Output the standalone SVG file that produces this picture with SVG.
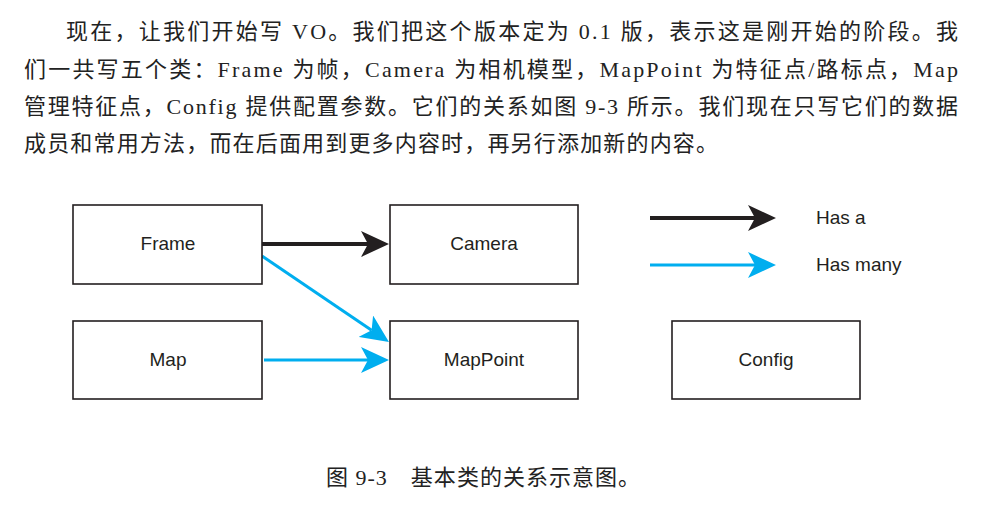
<svg xmlns="http://www.w3.org/2000/svg" width="998" height="510" viewBox="0 0 998 510">
<style>
.p{font-family:"Liberation Serif","Noto Sans CJK SC",serif;font-size:22px;fill:#222}
.box{fill:#fff;stroke:#231F20;stroke-width:1.6}
.lbl{font-family:"Liberation Sans",Arial,sans-serif;font-size:19px;fill:#231F20;text-anchor:middle}
.leg{font-family:"Liberation Sans",Arial,sans-serif;font-size:19px;fill:#231F20}
.has{stroke:#231F20;stroke-width:4;fill:none}
.many{stroke:#00AEEF;stroke-width:3;fill:none}
</style>
<defs>
<marker id="ab" markerUnits="userSpaceOnUse" markerWidth="28" markerHeight="26" refX="7" refY="13" orient="auto" viewBox="0 0 28 26">
<path d="M0,0 L28,13 L0,26 L7,13 Z" fill="#231F20"/>
</marker>
<marker id="am" markerUnits="userSpaceOnUse" markerWidth="28" markerHeight="26" refX="7" refY="13" orient="auto" viewBox="0 0 28 26">
<path d="M0,0 L28,13 L0,26 L7,13 Z" fill="#00AEEF"/>
</marker>
</defs>
<rect width="998" height="510" fill="#fff"/>
<g id="paragraph">
<text class="p" x="66" y="39" textLength="892" lengthAdjust="spacing">现在，让我们开始写 VO。我们把这个版本定为 0.1 版，表示这是刚开始的阶段。我</text>
<text class="p" x="24" y="77" textLength="934" lengthAdjust="spacing">们一共写五个类：Frame 为帧，Camera 为相机模型，MapPoint 为特征点/路标点，Map</text>
<text class="p" x="24" y="114" textLength="934" lengthAdjust="spacing">管理特征点，Config 提供配置参数。它们的关系如图 9-3 所示。我们现在只写它们的数据</text>
<text class="p" x="24" y="151" textLength="694" lengthAdjust="spacing">成员和常用方法，而在后面用到更多内容时，再另行添加新的内容。</text>
</g>
<g id="connectors">
<line class="has" x1="262" y1="244" x2="368" y2="244" marker-end="url(#ab)"/>
<line class="many" x1="262" y1="256" x2="371.6" y2="330.2" marker-end="url(#am)"/>
<line class="many" x1="264" y1="360" x2="368" y2="360" marker-end="url(#am)"/>
<line class="has" x1="650" y1="218" x2="755" y2="218" stroke-width="3" marker-end="url(#ab)"/>
<line class="many" x1="650" y1="265" x2="755" y2="265" marker-end="url(#am)"/>
</g>
<g id="frame"><rect class="box" x="73" y="205" width="189" height="79"/><text class="lbl" x="168" y="250">Frame</text></g>
<g id="camera"><rect class="box" x="390" y="205" width="188" height="79"/><text class="lbl" x="484" y="250">Camera</text></g>
<g id="map"><rect class="box" x="73" y="321" width="189" height="78"/><text class="lbl" x="168" y="366">Map</text></g>
<g id="mappoint"><rect class="box" x="390" y="321" width="188" height="78"/><text class="lbl" x="484" y="366">MapPoint</text></g>
<g id="config"><rect class="box" x="672" y="321" width="188" height="78"/><text class="lbl" x="766" y="366">Config</text></g>
<g id="legend">
<text class="leg" x="816" y="224">Has a</text>
<text class="leg" x="816" y="271">Has many</text>
</g>
<g id="caption">
<text class="p" x="326" y="485" textLength="314" lengthAdjust="spacing">图 9-3　基本类的关系示意图。</text>
</g>
</svg>
